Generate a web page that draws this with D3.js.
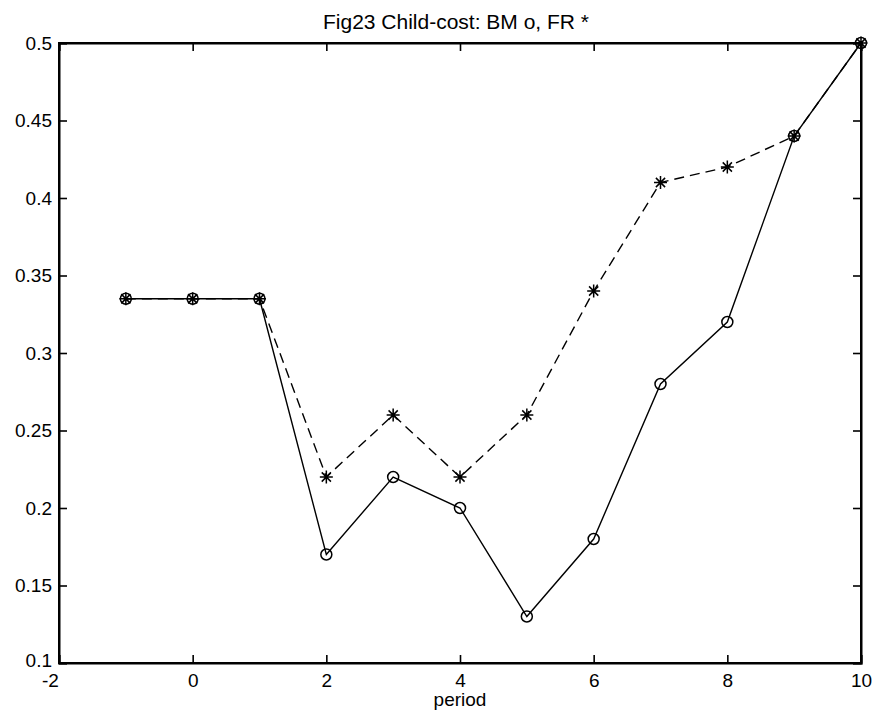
<!DOCTYPE html>
<html><head><meta charset="utf-8">
<script src="https://cdn.jsdelivr.net/npm/d3@7"></script>
<style>
html,body{margin:0;padding:0;background:#fff;}
svg{display:block;}
text{font-family:"Liberation Sans",Arial,Helvetica,sans-serif;}
</style></head>
<body>
<svg id="chart" width="876" height="720"></svg>
<script>
const periods = [-1, 0, 1, 2, 3, 4, 5, 6, 7, 8, 9, 10];
const bmValues = [0.335, 0.335, 0.335, 0.17, 0.22, 0.20, 0.13, 0.18, 0.28, 0.32, 0.44, 0.5];
const frValues = [0.335, 0.335, 0.335, 0.22, 0.26, 0.22, 0.26, 0.34, 0.41, 0.42, 0.44, 0.5];
const xTicks = [-2, 0, 2, 4, 6, 8, 10];
const yTicks = [0.1, 0.15, 0.2, 0.25, 0.3, 0.35, 0.4, 0.45, 0.5];
const titleText = "Fig23 Child-cost: BM o, FR *";
const xLabel = "period";

(function () {
const svg = d3.select("#chart");
const L = 59, R = 861, T = 43, B = 663;
const x = d3.scaleLinear().domain([-2, 10]).range([L, R]);
const y = d3.scaleLinear().domain([0.1, 0.5]).range([B, T]);
const fs = 19;

// data lines
const line = d3.line().x((d, i) => x(periods[i])).y(d => y(d));
svg.append("path").datum(frValues).attr("d", line)
  .attr("fill", "none").attr("stroke", "#000").attr("stroke-width", 1.4)
  .attr("stroke-dasharray", "10,6");
svg.append("path").datum(bmValues).attr("d", line)
  .attr("fill", "none").attr("stroke", "#000").attr("stroke-width", 1.4);

// circles (BM)
svg.append("g").selectAll("circle").data(bmValues).join("circle")
  .attr("cx", (d, i) => x(periods[i])).attr("cy", d => y(d)).attr("r", 5.5)
  .attr("fill", "none").attr("stroke", "#000").attr("stroke-width", 1.5);

// stars (FR)
const s = 6.5, sd = 4.6;
const starPath = `M${-s},0L${s},0M0,${-s}L0,${s}M${-sd},${-sd}L${sd},${sd}M${-sd},${sd}L${sd},${-sd}`;
svg.append("g").selectAll("path").data(frValues).join("path")
  .attr("transform", (d, i) => `translate(${x(periods[i])},${y(d)})`)
  .attr("d", starPath).attr("fill", "none").attr("stroke", "#000").attr("stroke-width", 1.5);

// axes
const ax = svg.append("g");
const gBottom = ax.append("g").attr("transform", `translate(0,${B})`)
  .call(d3.axisBottom(x).tickValues(xTicks).tickSize(-8).tickFormat(d => String(d)));
ax.append("g").attr("transform", `translate(0,${T})`)
  .call(d3.axisTop(x).tickValues(xTicks).tickSize(-8).tickFormat(""));
const gLeft = ax.append("g").attr("transform", `translate(${L},0)`)
  .call(d3.axisLeft(y).tickValues(yTicks).tickSize(-8).tickPadding(7).tickFormat(d => String(+d.toFixed(2))));
ax.append("g").attr("transform", `translate(${R},0)`)
  .call(d3.axisRight(y).tickValues(yTicks).tickSize(-8).tickFormat(""));
ax.selectAll(".domain").attr("stroke", "#000").attr("stroke-width", 2);
ax.selectAll(".tick line").attr("stroke", "#000").attr("stroke-width", 1.6);
ax.selectAll(".tick text").attr("fill", "#000").style("font-size", fs + "px")
  .style("font-family", '"Liberation Sans",Arial,sans-serif');
gBottom.selectAll(".tick text").attr("y", 24).attr("dy", 0);
gBottom.selectAll(".tick text").filter(d => d === -2).attr("dx", -9);
gLeft.selectAll(".tick text").filter(d => d === 0.1).attr("dy", "0.2em");

// box edges
svg.append("rect").attr("x", L).attr("y", T).attr("width", R - L).attr("height", B - T)
  .attr("fill", "none").attr("stroke", "#000").attr("stroke-width", 2);

// title & label
svg.append("text").attr("x", 456).attr("y", 29).attr("text-anchor", "middle")
  .style("font-size", "21px").text(titleText);
svg.append("text").attr("x", 460).attr("y", 706).attr("text-anchor", "middle")
  .style("font-size", fs + "px").text(xLabel);
})();
</script>
</body></html>
